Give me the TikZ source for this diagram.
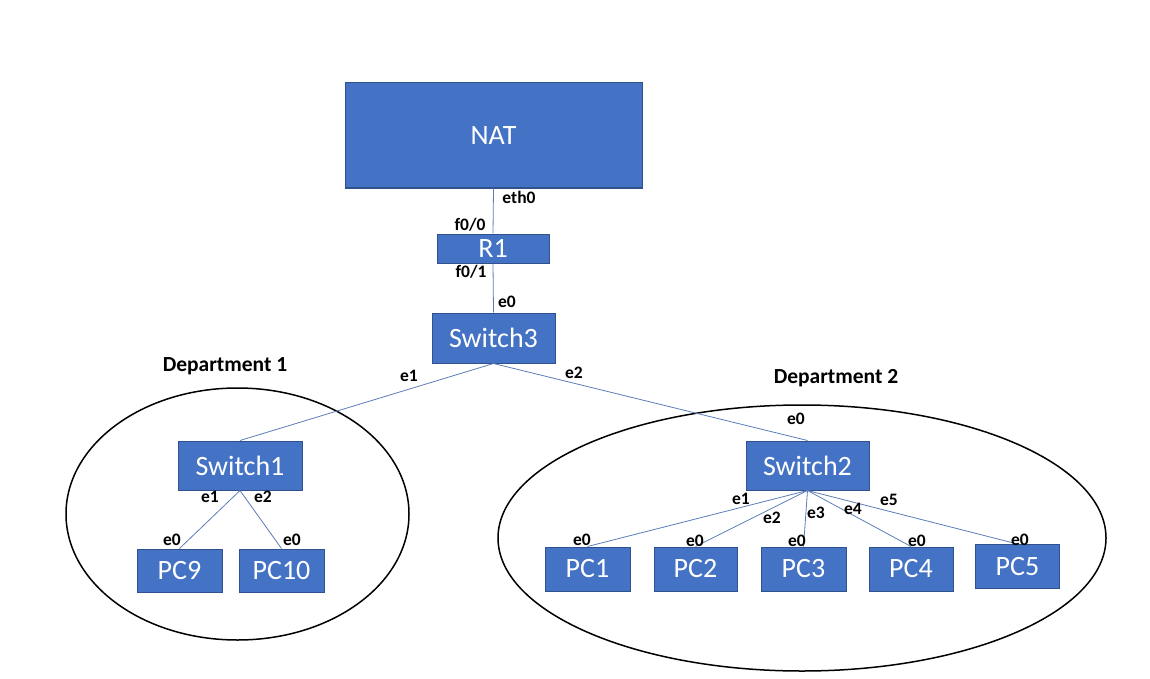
\documentclass[tikz,border=0pt]{standalone}
\usepackage{fontspec}
\setmainfont{Carlito}
\usetikzlibrary{shapes.geometric}
\definecolor{boxblue}{HTML}{4472C4}
\definecolor{boxedge}{HTML}{2F528F}
\definecolor{linkblue}{HTML}{5B7DB8}
\tikzset{
  dev/.style={draw=boxedge, line width=1pt, fill=boxblue, text=white, inner sep=0pt,
    font=\fontsize{28}{32}\selectfont},
  port/.style={inner sep=0pt, font=\fontsize{17.5}{20}\selectfont\bfseries},
  dept/.style={inner sep=0pt, font=\fontsize{21.5}{25}\selectfont\bfseries},
  link/.style={draw=linkblue, line width=0.8pt},
  area/.style={draw=black, line width=1.5pt, ellipse, inner sep=0pt}
}
\begin{document}
\begin{tikzpicture}[x=1pt,y=-1pt]
\useasboundingbox (0,0) rectangle (1150,679);
% areas
\node[area, minimum width=343pt, minimum height=252pt] (area1) at (237.5,514) {};
\node[area, minimum width=608pt, minimum height=266pt] (area2) at (802,538) {};
\node[dept] (d1) at (225,366) {Department 1};
\node[dept] (d2) at (836,378) {Department 2};
% devices
\node[dev, minimum width=297pt, minimum height=105pt] (nat) at (493.5,135.5) {NAT};
\node[dev, minimum width=112pt, minimum height=29pt] (r1) at (493,248.5) {R1};
\node[dev, minimum width=123pt, minimum height=50pt] (sw3) at (493.5,338) {Switch3};
\node[dev, minimum width=124pt, minimum height=49pt] (sw1) at (240,465.5) {Switch1};
\node[dev, minimum width=85pt, minimum height=43pt] (pc9) at (179.5,570.5) {PC9};
\node[dev, minimum width=85pt, minimum height=43pt] (pc10) at (281.5,570.5) {PC10};
\node[dev, minimum width=123pt, minimum height=49pt] (sw2) at (807.5,465.5) {Switch2};
\node[dev, minimum width=85pt, minimum height=44pt] (pc1) at (587.5,569) {PC1};
\node[dev, minimum width=83pt, minimum height=44pt] (pc2) at (695.5,569) {PC2};
\node[dev, minimum width=85pt, minimum height=44pt] (pc3) at (803.5,569) {PC3};
\node[dev, minimum width=84pt, minimum height=44pt] (pc4) at (911,569) {PC4};
\node[dev, minimum width=84pt, minimum height=44pt] (pc5) at (1017.5,566.5) {PC5};
% links
\draw[link] (nat.south) -- (r1.north);
\draw[link] (r1.south) -- (sw3.north);
\draw[link] (sw3.south) -- (sw1.north);
\draw[link] (sw3.south) -- (sw2.north);
\draw[link] (sw1.south) -- (pc9.north);
\draw[link] (sw1.south) -- (pc10.north);
\draw[link] (sw2.south) -- (pc1.north);
\draw[link] (sw2.south) -- (pc2.north);
\draw[link] (sw2.south) -- (pc3.north);
\draw[link] (sw2.south) -- (pc4.north);
\draw[link] (sw2.south) -- (pc5.north);
% port labels
\node[port] (l-eth0) at (519,197) {eth0};
\node[port] (l-f00) at (470,225) {f0/0};
\node[port] (l-f01) at (471,272) {f0/1};
\node[port] (l-s3e0) at (507,302) {e0};
\node[port] (l-s3e1) at (409,376) {e1};
\node[port] (l-s3e2) at (574,373) {e2};
\node[port] (l-s1e1) at (210,497) {e1};
\node[port] (l-s1e2) at (263,497) {e2};
\node[port] (l-pc9e0) at (172,540) {e0};
\node[port] (l-pc10e0) at (292,540) {e0};
\node[port] (l-s2e0) at (796,419) {e0};
\node[port] (l-s2e1) at (741,499) {e1};
\node[port] (l-s2e2) at (772,518) {e2};
\node[port] (l-s2e3) at (816,513) {e3};
\node[port] (l-s2e4) at (853,509) {e4};
\node[port] (l-s2e5) at (889,500) {e5};
\node[port] (l-pc1e0) at (582,540) {e0};
\node[port] (l-pc2e0) at (695,541) {e0};
\node[port] (l-pc3e0) at (797,541) {e0};
\node[port] (l-pc4e0) at (917,541) {e0};
\node[port] (l-pc5e0) at (1020,540) {e0};
\end{tikzpicture}
\end{document}
